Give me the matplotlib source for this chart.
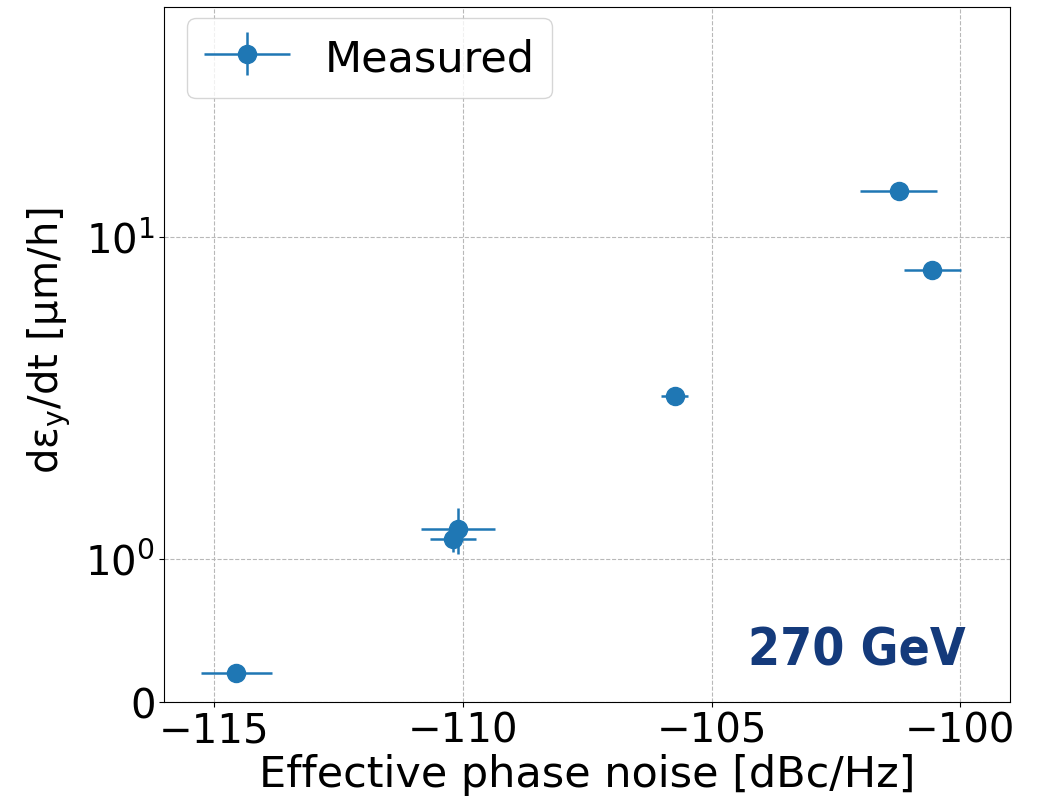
import matplotlib
matplotlib.use('Agg')
import matplotlib.pyplot as plt
from matplotlib.container import ErrorbarContainer
from matplotlib.legend_handler import HandlerErrorbar

# data
noise = [-114.55, -110.2, -110.1, -105.74, -101.24, -100.56]
noise_err = [0.72, 0.46, 0.74, 0.27, 0.77, 0.57]
growth = [0.2, 1.15, 1.24, 3.22, 13.9, 7.91]
growth_err = [0.0, 0.1, 0.2, 0.0, 0.0, 0.0]

plt.rcParams['font.size'] = 29

fig = plt.figure(figsize=(10.46, 8.01), dpi=100)
ax = fig.add_axes([0.157, 0.1236, 0.8086, 0.8677])

ax.errorbar(noise, growth, xerr=noise_err, yerr=growth_err, fmt='o',
            color='#1f77b4', markersize=13, elinewidth=1.8, label='Measured')

ax.set_yscale('symlog', linthresh=1, linscale=0.4)
ax.set_ylim(0, 52)
ax.set_yticks([0, 1, 10])
ax.yaxis.set_minor_locator(matplotlib.ticker.NullLocator())
ax.set_xlim(-116, -99)
ax.set_xticks([-115, -110, -105, -100])

ax.grid(True, linestyle='--', color='#b8b8b8', linewidth=0.8)
ax.set_xlabel('Effective phase noise [dBc/Hz]', fontsize=31, labelpad=2)
ax.set_ylabel('d\u03b5$_\\mathregular{y}$/dt [\u03bcm/h]')
ax.yaxis.set_label_coords(-0.108, 0.52)

ax.legend(loc='upper left', bbox_to_anchor=(0.027, 0.984), borderaxespad=0,
          fontsize=31, handleheight=1.2,
          handler_map={ErrorbarContainer: HandlerErrorbar(xerr_size=1.0, yerr_size=0.5)})

ax.text(0.947, 0.052, '270 GeV', transform=ax.transAxes, ha='right', va='baseline',
        fontsize=37, fontweight='bold', fontstretch='condensed', color='#143a7b',
        family=['DejaVu Sans'])

fig.savefig('out.png', dpi=100)
